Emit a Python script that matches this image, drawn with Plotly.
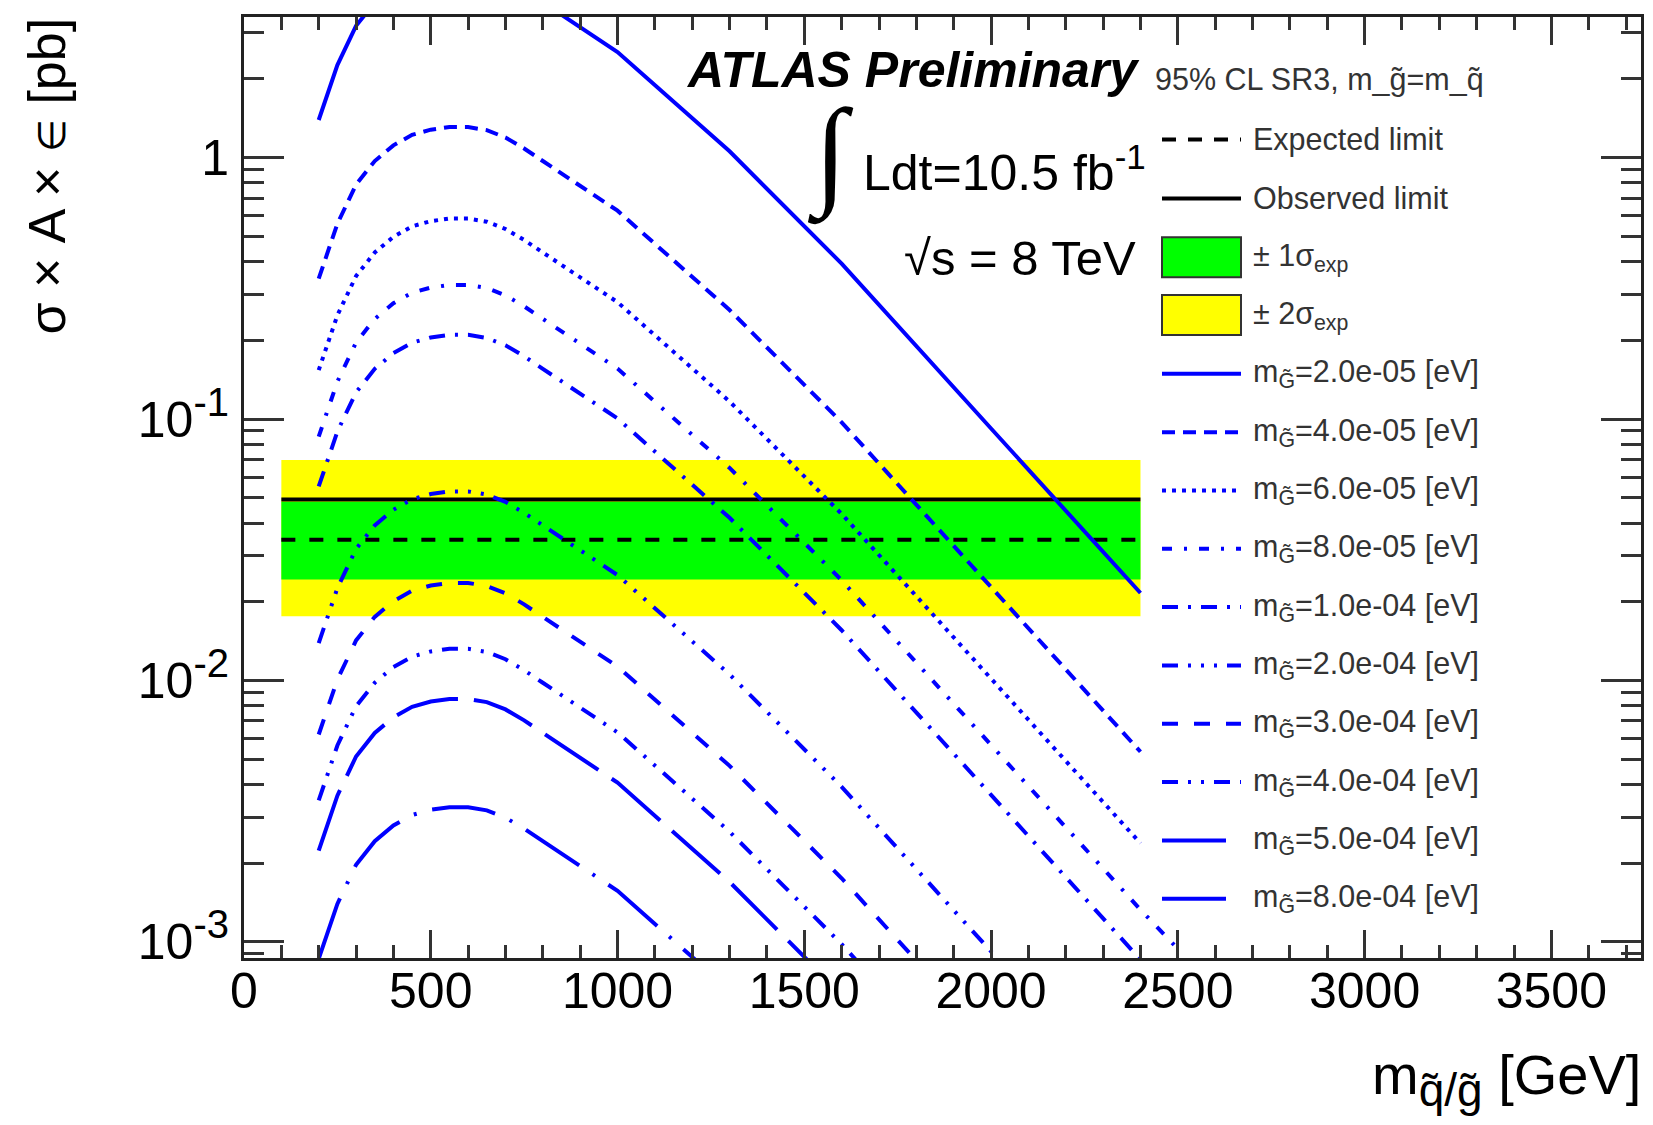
import plotly.graph_objects as go

# ---------------- data ----------------
mass = [200, 250, 300, 350, 400, 450, 500, 550, 600, 650, 700, 750,
        800, 900, 1000, 1300, 1600, 2000, 2400, 2500]

gravitino_labels = ["2.0e-05", "4.0e-05", "6.0e-05", "8.0e-05", "1.0e-04",
                    "2.0e-04", "3.0e-04", "4.0e-04", "5.0e-04", "8.0e-04"]

xsec_2p0em5 = [1.393, 2.259, 3.192, 3.926, 4.508, 4.943, 5.176, 5.297, 5.297, 5.152,
               4.831, 4.386, 3.927, 3.155, 2.535, 1.057, 0.393, 0.0920, 0.0216]
xsec_4p0em5 = [0.3443, 0.5585, 0.7889, 0.9705, 1.114, 1.222, 1.279, 1.309, 1.309, 1.274,
               1.194, 1.084, 0.9705, 0.7799, 0.6266, 0.2612, 0.0971, 0.02275, 0.005333]
xsec_6p0em5 = [0.1538, 0.2495, 0.3524, 0.4335, 0.4977, 0.5458, 0.5715, 0.5848, 0.5848, 0.5688,
               0.5333, 0.4842, 0.4335, 0.3483, 0.2799, 0.1167, 0.04335, 0.01016, 0.002382]
xsec_8p0em5 = [0.0857, 0.1390, 0.1963, 0.2415, 0.2773, 0.3041, 0.3184, 0.3258, 0.3258, 0.3170,
               0.2972, 0.2698, 0.2416, 0.1941, 0.1560, 0.06501, 0.02415, 0.005662, 0.001327,
               0.0009397]
xsec_1p0em4 = [0.05521, 0.08954, 0.1265, 0.1556, 0.1786, 0.1959, 0.2051, 0.2099, 0.2099, 0.2042,
               0.1914, 0.1738, 0.1556, 0.1250, 0.1005, 0.04188, 0.01556, 0.003648, 0.000855]
xsec_2p0em4 = [0.01390, 0.02254, 0.03184, 0.03917, 0.04498, 0.04932, 0.05164, 0.05284, 0.05284,
               0.05140, 0.04819, 0.04375, 0.03917, 0.03148, 0.02529, 0.01054, 0.003917, 0.0009183,
               0.0002153]
xsec_3p0em4 = [0.006209, 0.01007, 0.01422, 0.01750, 0.02009, 0.02203, 0.02307, 0.02360, 0.02360,
               0.02296, 0.02153, 0.01954, 0.01750, 0.01406, 0.01130, 0.004710, 0.001750, 0.0004102]
xsec_4p0em4 = [0.003475, 0.005636, 0.007962, 0.009795, 0.01125, 0.01233, 0.01291, 0.01321, 0.01321,
               0.01285, 0.01205, 0.01094, 0.009795, 0.007870, 0.006324, 0.002636, 0.0009795,
               0.0002296]
xsec_5p0em4 = [0.002234, 0.003622, 0.005117, 0.006295, 0.007228, 0.007925, 0.008299, 0.008492,
               0.008492, 0.008261, 0.007745, 0.007031, 0.006295, 0.005058, 0.004064, 0.001694,
               0.0006295]
xsec_8p0em4 = [0.000861, 0.001396, 0.001972, 0.002427, 0.002786, 0.003055, 0.003199, 0.003273,
               0.003273, 0.003184, 0.002985, 0.002710, 0.002426, 0.001949, 0.001567, 0.0006531]

band_mass = [100, 2400]
expected_limit = 0.0345
observed_limit = 0.0492
band_1sigma = [0.0243, 0.0483]
band_2sigma = [0.0176, 0.0697]

x_ticks = [0, 500, 1000, 1500, 2000, 2500, 3000, 3500]
y_ticks = [0.001, 0.01, 0.1, 1]
SUP = "<sup><span style='font-size:40px'>%s</span></sup>"
y_ticktext = ["10" + SUP % "-3", "10" + SUP % "-2", "10" + SUP % "-1", "1"]

# ---------------- styles ----------------
series = [xsec_2p0em5, xsec_4p0em5, xsec_6p0em5, xsec_8p0em5, xsec_1p0em4,
          xsec_2p0em4, xsec_3p0em4, xsec_4p0em4, xsec_5p0em4, xsec_8p0em4]
dashes = ["solid", "13px,8px", "4px,6px", "10px,12px,3px,12px", "16px,10px,3px,10px",
          "16px,10px,3px,10px,3px,10px,3px,10px", "16px,16px", "16px,10px,3px,10px,3px,10px",
          "64px,16px", "64px,16px,3px,16px"]
BLUE = "#0000FF"
FONT = "Liberation Sans, Arial, Helvetica, sans-serif"

# page has an 8px body margin: figure drawn 8px smaller, positions stay in page pixels
OFF = 8
W, H = 1653 - OFF, 1125 - OFF
L, R, T, B = 244 - OFF, 12, 14 - OFF, 167
PW, PH = W - L - R, H - T - B


def pxx(x):
    return (x - OFF - L) / PW


def pxy(y):
    return (H - B - (y - OFF)) / PH


fig = go.Figure()

# bands
for (lo, hi), col in [(band_2sigma, "#FFFF00"), (band_1sigma, "#00FF00")]:
    fig.add_trace(go.Scatter(
        x=[band_mass[0], band_mass[1], band_mass[1], band_mass[0], band_mass[0]],
        y=[lo, lo, hi, hi, lo], mode="lines", fill="toself", fillcolor=col,
        line=dict(width=0, color=col), hoverinfo="skip", showlegend=False))

fig.add_trace(go.Scatter(x=band_mass, y=[expected_limit] * 2, mode="lines",
                         line=dict(color="black", width=4, dash="14px,14px"),
                         showlegend=False))
fig.add_trace(go.Scatter(x=band_mass, y=[observed_limit] * 2, mode="lines",
                         line=dict(color="black", width=4), showlegend=False))

for ys, d, lab in zip(series, dashes, gravitino_labels):
    fig.add_trace(go.Scatter(x=mass[:len(ys)], y=ys, mode="lines",
                             line=dict(color=BLUE, width=4, dash=d),
                             name=lab, showlegend=False))

# ---------------- legend (drawn by hand) ----------------
shapes = []
ann = []
LX0, LX1, TX = 1162, 1241, 1251
LEG_FONT = dict(family=FONT, size=30.5, color="#333333")

ann.append(dict(x=pxx(1153), y=pxy(77), text="95% CL SR3, m_g\u0303=m_q\u0303",
                xanchor="left", yanchor="middle", font=LEG_FONT))

row_y = [137, 196, 255, 313]
shapes.append(dict(type="line", xref="paper", yref="paper", x0=pxx(LX0), x1=pxx(LX1),
                   y0=pxy(row_y[0]), y1=pxy(row_y[0]),
                   line=dict(color="black", width=4, dash="14px,12px")))
ann.append(dict(x=pxx(TX), y=pxy(row_y[0]), text="Expected limit", xanchor="left",
                yanchor="middle", font=LEG_FONT))
shapes.append(dict(type="line", xref="paper", yref="paper", x0=pxx(LX0), x1=pxx(LX1),
                   y0=pxy(row_y[1]), y1=pxy(row_y[1]), line=dict(color="black", width=4)))
ann.append(dict(x=pxx(TX), y=pxy(row_y[1]), text="Observed limit", xanchor="left",
                yanchor="middle", font=LEG_FONT))
for yy, col, txt in [(row_y[2], "#00FF00", "\u00b1 1\u03c3<sub>exp</sub>"),
                     (row_y[3], "#FFFF00", "\u00b1 2\u03c3<sub>exp</sub>")]:
    shapes.append(dict(type="rect", xref="paper", yref="paper", x0=pxx(LX0), x1=pxx(LX1),
                       y0=pxy(yy + 20), y1=pxy(yy - 20), fillcolor=col,
                       line=dict(color="#333333", width=2)))
    ann.append(dict(x=pxx(TX), y=pxy(yy), text=txt, xanchor="left", yanchor="middle",
                    font=LEG_FONT))

for i, (d, lab) in enumerate(zip(dashes, gravitino_labels)):
    yy = 372 + 58.5 * i
    shapes.append(dict(type="line", xref="paper", yref="paper", x0=pxx(LX0), x1=pxx(LX1),
                       y0=pxy(yy), y1=pxy(yy), line=dict(color=BLUE, width=4, dash=d)))
    ann.append(dict(x=pxx(TX), y=pxy(yy),
                    text="m<sub>G\u0303</sub>=" + lab + " [eV]",
                    xanchor="left", yanchor="middle", font=LEG_FONT))

# ---------------- labels ----------------
ann.append(dict(x=pxx(1141), y=pxy(67), text="<b><i>ATLAS Preliminary</i></b>",
                xanchor="right", yanchor="middle",
                font=dict(family=FONT, size=50, color="black")))
ann.append(dict(x=pxx(830), y=pxy(152), text="\u222b", xanchor="center", yanchor="middle",
                font=dict(family="Liberation Serif", size=120, color="black")))
ann.append(dict(x=pxx(861), y=pxy(166), text="Ldt=10.5 fb<sup>-1</sup>",
                xanchor="left", yanchor="middle",
                font=dict(family=FONT, size=50, color="black")))
ann.append(dict(x=pxx(902), y=pxy(256), text="\u221as = 8 TeV",
                xanchor="left", yanchor="middle",
                font=dict(family=FONT, size=49, color="black")))

ann.append(dict(x=pxx(47), y=pxy(13),
                text="\u03c3 \u00d7 A \u00d7 <span style='font-size:38px'>\u2208</span> [pb]",
                textangle=-90, xanchor="center", yanchor="top",
                font=dict(family=FONT, size=52, color="black")))
ann.append(dict(x=pxx(1643), y=pxy(1080),
                text="m<sub><span style='font-size:46px'>q\u0303/g\u0303</span></sub> [GeV]",
                xanchor="right", yanchor="middle",
                font=dict(family=FONT, size=56, color="black")))

for a in ann:
    a.setdefault("xref", "paper")
    a.setdefault("yref", "paper")
    a.setdefault("showarrow", False)

y_minor = [d * 10.0 ** k for k in range(-4, 1) for d in range(2, 10)]

fig.update_layout(
    width=W, height=H,
    margin=dict(l=L, r=R, t=T, b=B, pad=0),
    paper_bgcolor="white", plot_bgcolor="white",
    showlegend=False,
    shapes=shapes, annotations=ann,
    xaxis=dict(range=[0, 3740], tickvals=x_ticks, ticks="inside", ticklen=28,
               tickwidth=3, tickcolor="#333333", showline=True, linecolor="#222222",
               linewidth=3, mirror="allticks", showgrid=False, zeroline=False,
               tickfont=dict(family=FONT, size=50, color="black"), ticklabelstandoff=-13,
               minor=dict(dtick=100, tick0=0, ticks="inside", ticklen=13, tickwidth=3,
                          tickcolor="#333333", showgrid=False)),
    yaxis=dict(type="log", range=[-3.062, 0.538], tickvals=y_ticks, ticktext=y_ticktext,
               ticks="inside", ticklen=40, tickwidth=3, tickcolor="#333333",
               showline=True, linecolor="#222222", linewidth=3, mirror="allticks",
               showgrid=False, zeroline=False,
               tickfont=dict(family=FONT, size=50, color="black"), ticklabelstandoff=2,
               minor=dict(tickvals=y_minor, ticks="inside", ticklen=20, tickwidth=3,
                          tickcolor="#333333", showgrid=False)),
)

fig.write_html("out.html")
